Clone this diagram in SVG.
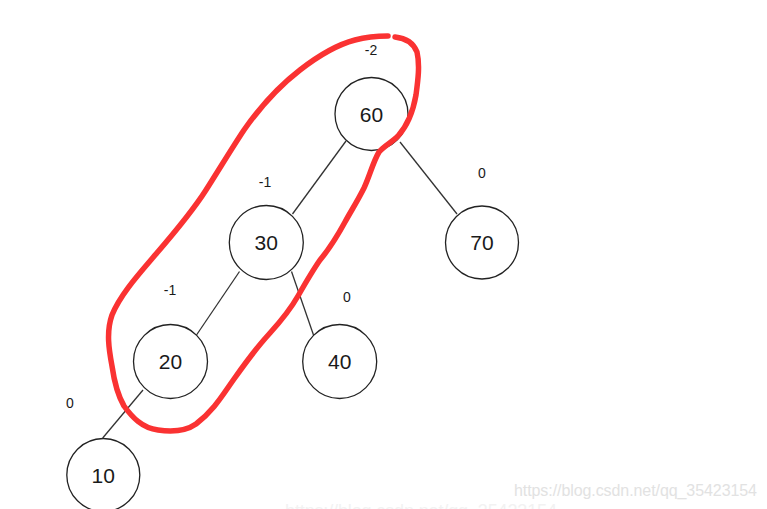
<svg xmlns="http://www.w3.org/2000/svg" width="767" height="509" viewBox="0 0 767 509">
<style>
.n circle{fill:#fff;stroke:#222;stroke-width:1.3}
.n text{font-family:"Liberation Sans",Arial,sans-serif;font-size:21px;fill:#1a1a1a;text-anchor:middle}
.lbl{font-family:"Liberation Sans",Arial,sans-serif;font-size:14px;fill:#1a1a1a;text-anchor:middle}
.e line{stroke:#333;stroke-width:1.3}
.wm{font-family:"Liberation Sans",Arial,sans-serif;fill:#e2e2e2}
</style>
<rect width="767" height="509" fill="#fff"/>
<text class="wm" x="285" y="517" font-size="18" textLength="272" style="fill:#f2f2f2">https://blog.csdn.net/qq_35423154</text>
<g id="connectors" class="e">
<line x1="346" y1="141" x2="292.5" y2="214"/>
<line x1="400" y1="142" x2="457" y2="214"/>
<line x1="239.5" y1="271.5" x2="196.5" y2="335"/>
<line x1="291.5" y1="271.5" x2="313.5" y2="335"/>
<line x1="143" y1="390" x2="102.7" y2="438"/>
</g>
<g id="n60" class="n"><circle cx="371.5" cy="114" r="36.5"/><text x="371.5" y="121.5">60</text></g>
<g id="n30" class="n"><circle cx="266.3" cy="242.5" r="37"/><text x="266.3" y="250">30</text></g>
<g id="n70" class="n"><circle cx="482" cy="242.5" r="36.5"/><text x="482" y="250">70</text></g>
<g id="n20" class="n"><circle cx="170.5" cy="361.5" r="37"/><text x="170.5" y="369">20</text></g>
<g id="n40" class="n"><circle cx="339.7" cy="361.5" r="37"/><text x="339.7" y="369">40</text></g>
<g id="n10" class="n"><circle cx="103.3" cy="475" r="36.5"/><text x="103.3" y="482.5">10</text></g>
<g id="labels">
<text class="lbl" x="371" y="55">-2</text>
<text class="lbl" x="265" y="187">-1</text>
<text class="lbl" x="482" y="178">0</text>
<text class="lbl" x="170" y="295">-1</text>
<text class="lbl" x="347" y="302">0</text>
<text class="lbl" x="70" y="408">0</text>
</g>
<path d="M395,37 C405,38 413,42 417,52 C420,65 418,80 416,95 C413,112 408,125 398,136 C391,143 384,146 379,152 C373,162 370,175 364,188 C357,202 351,211 345,222 C339,233 330,248 320,260 C313,270 306,282 298,296 C290,310 280,322 270,333 C258,346 246,362 234,379 C222,396 214,410 196,424 C186,431 172,432 158,430 C142,428 132,417 124,406 C117,394 114,380 112,366 C109,350 106,332 112,315 C120,295 138,275 156,254 C175,232 192,212 206,190 C220,168 232,148 244,130 C258,110 278,87 300,70 C318,56 336,45 355,40 C366,37 377,36 388,36" fill="none" stroke="#fa3232" stroke-width="5.5" stroke-linecap="round" stroke-linejoin="round"/>
<text class="wm" x="514" y="496" font-size="16" textLength="243">https://blog.csdn.net/qq_35423154</text>
</svg>
